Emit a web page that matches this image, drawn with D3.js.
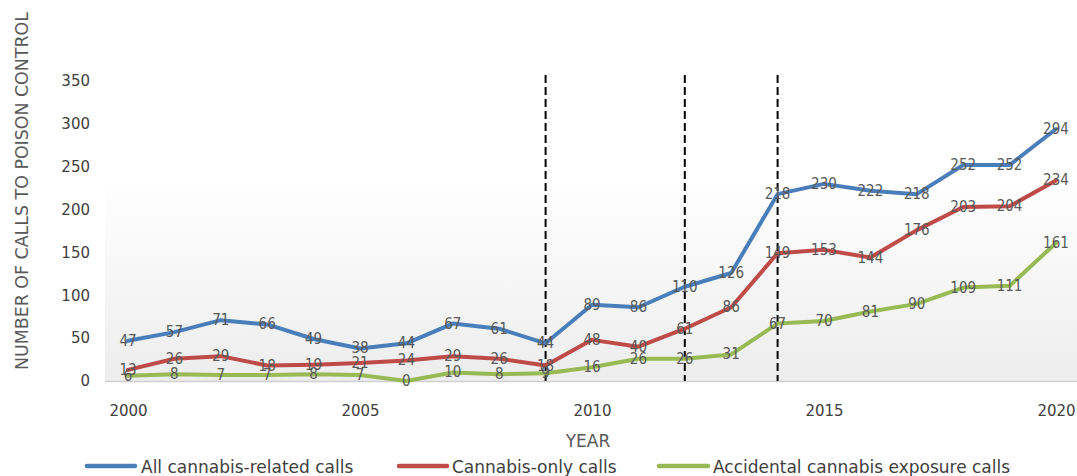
<!DOCTYPE html>
<html>
<head>
<meta charset="utf-8">
<script src="https://cdn.jsdelivr.net/npm/d3@7"></script>
<style>
  html, body { margin: 0; padding: 0; background: #fff; }
  svg { display: block; }
</style>
</head>
<body>
<svg id="chart" width="1077" height="476"></svg>
<script>
// ---- Data ----
const years = [2000,2001,2002,2003,2004,2005,2006,2007,2008,2009,2010,2011,2012,2013,2014,2015,2016,2017,2018,2019,2020];
const allCalls      = [47,57,71,66,49,38,44,67,61,44,89,86,110,126,218,230,222,218,252,252,294];
const cannabisOnly  = [13,26,29,18,19,21,24,29,26,18,48,40,61,86,149,153,144,176,203,204,234];
const accidental    = [6,8,7,7,8,7,0,10,8,9,16,26,26,31,67,70,81,90,109,111,161];
const seriesNames   = ["All cannabis-related calls","Cannabis-only calls","Accidental cannabis exposure calls"];
const seriesColors  = ["#4A7EBB","#BE4B48","#98B954"];
const yTicks        = [0,50,100,150,200,250,300,350];
const xTicks        = [2000,2005,2010,2015,2020];
const markerYears   = [2009,2012,2014];

const series = [allCalls, cannabisOnly, accidental].map((vals, i) => ({
  name: seriesNames[i], color: seriesColors[i],
  points: years.map((y, j) => ({ year: y, value: vals[j] }))
}));

const svg = d3.select("#chart");
const x = d3.scaleLinear().domain([2000, 2020]).range([128, 1056]);
const y = d3.scaleLinear().domain([0, 350]).range([381, 81]);

// Plot background gradient
const defs = svg.append("defs");
const grad = defs.append("linearGradient").attr("id","bg").attr("x1",0).attr("y1",0).attr("x2",0).attr("y2",1);
grad.append("stop").attr("offset","0%").attr("stop-color","#ffffff");
grad.append("stop").attr("offset","100%").attr("stop-color","#ededed");
svg.append("rect").attr("x",105).attr("y",180).attr("width",972).attr("height",y(0)-180).attr("fill","url(#bg)");

// Bottom axis line
svg.append("line").attr("x1",105).attr("x2",1077).attr("y1",y(0)+0.5).attr("y2",y(0)+0.5)
  .attr("stroke","#d0d0d0").attr("stroke-width",1.5);

// Y axis labels
const yAxis = d3.axisLeft(y).tickValues(yTicks).tickSize(0).tickPadding(0);
const gy = svg.append("g").attr("transform","translate(90,0)").call(yAxis);
gy.select(".domain").remove();
gy.selectAll("text").attr("font-family","DejaVu Sans").attr("font-size","15px").attr("fill","#404040");

// X axis labels
const xAxis = d3.axisBottom(x).tickValues(xTicks).tickFormat(d3.format("d")).tickSize(0).tickPadding(0);
const gx = svg.append("g").attr("transform","translate(0,405)").call(xAxis);
gx.select(".domain").remove();
gx.selectAll("text").attr("font-family","DejaVu Sans").attr("font-size","15px").attr("fill","#404040");

// Axis titles
svg.append("text").attr("transform","translate(28,191) rotate(-90)")
  .attr("text-anchor","middle").attr("font-family","DejaVu Sans").attr("font-size","17.4px")
  .attr("fill","#595959").text("NUMBER OF CALLS TO POISON CONTROL");
svg.append("text").attr("x",588).attr("y",447).attr("text-anchor","middle")
  .attr("font-family","DejaVu Sans").attr("font-size","17px").attr("fill","#595959").text("YEAR");

// Dashed marker lines
svg.append("g").selectAll("line").data(markerYears).join("line")
  .attr("x1", d => x(d)).attr("x2", d => x(d)).attr("y1", 75).attr("y2", y(0))
  .attr("stroke","#000").attr("stroke-width",2).attr("stroke-dasharray","8,4");

// Lines
const line = d3.line().x(d => x(d.year)).y(d => y(d.value));
svg.append("g").selectAll("path").data(series).join("path")
  .attr("d", d => line(d.points)).attr("fill","none").attr("stroke", d => d.color)
  .attr("stroke-width",4).attr("stroke-linejoin","round").attr("stroke-linecap","round");

// Data labels
const lab = svg.append("g");
series.forEach(s => {
  lab.selectAll(null).data(s.points).join("text")
    .attr("x", d => x(d.year)).attr("y", d => y(d.value))
    .attr("text-anchor","middle").attr("dominant-baseline","central")
    .attr("font-family","'Liberation Sans Narrow', 'DejaVu Sans Condensed', sans-serif")
    .attr("font-size","15px").attr("fill","#595959")
    .text(d => d.value);
});

// Legend
const legendPos = [{sx:87, ex:135, tx:141},{sx:399, ex:447, tx:452},{sx:659, ex:708, tx:713}];
const lg = svg.append("g");
series.forEach((s, i) => {
  const p = legendPos[i];
  lg.append("line").attr("x1",p.sx).attr("x2",p.ex).attr("y1",466).attr("y2",466)
    .attr("stroke",s.color).attr("stroke-width",4.5).attr("stroke-linecap","round");
  lg.append("text").attr("x",p.tx).attr("y",467).attr("dominant-baseline","central")
    .attr("font-family","DejaVu Sans").attr("font-size","17px").attr("fill","#404040").text(s.name);
});
</script>
</body>
</html>
